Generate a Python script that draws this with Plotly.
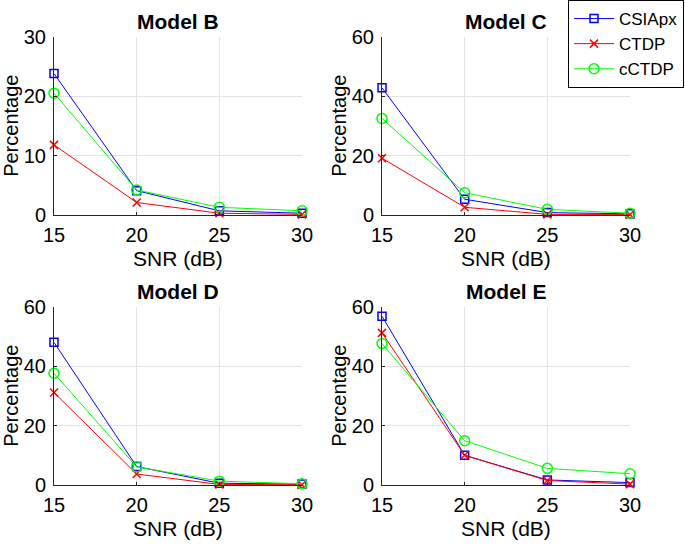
import plotly.graph_objects as go

snr = [15, 20, 25, 30]
models = ["Model B", "Model C", "Model D", "Model E"]

# percentage values per model
csiapx = {
    "Model B": [23.8, 4.1, 0.7, 0.3],
    "Model C": [42.8, 5.3, 0.8, 0.4],
    "Model D": [48.0, 6.2, 0.6, 0.3],
    "Model E": [56.8, 10.0, 1.7, 0.8],
}
ctdp = {
    "Model B": [11.8, 2.1, 0.3, 0.1],
    "Model C": [19.1, 2.6, 0.2, 0.2],
    "Model D": [31.1, 3.7, 0.2, 0.1],
    "Model E": [51.2, 10.0, 1.5, 0.3],
}
cctdp = {
    "Model B": [20.5, 4.2, 1.3, 0.7],
    "Model C": [32.5, 7.5, 1.9, 0.6],
    "Model D": [37.6, 6.1, 1.3, 0.4],
    "Model E": [47.6, 14.9, 5.6, 3.8],
}
y_max = {"Model B": 30, "Model C": 60, "Model D": 60, "Model E": 60}
y_ticks = {"Model B": [0, 10, 20, 30], "Model C": [0, 20, 40, 60],
           "Model D": [0, 20, 40, 60], "Model E": [0, 20, 40, 60]}

W, H = 685, 545
FONT = "Liberation Sans, Arial, sans-serif"

# pixel boxes of each axes (left, right, top, bottom)
boxes = {
    "Model B": (54, 302, 36.7, 215),
    "Model C": (382, 630, 36.7, 215),
    "Model D": (54, 302, 306.7, 485),
    "Model E": (382, 630, 306.7, 485),
}

series = [
    ("CSIApx", csiapx, "#0000ff", "square-open", 8),
    ("CTDP", ctdp, "#ff0000", "x-thin-open", 8),
    ("cCTDP", cctdp, "#00ff00", "circle-open", 10),
]

fig = go.Figure()
annotations = []


def label(text, x, y, angle=0, bold=False, size=21):
    return dict(text="<b>%s</b>" % text if bold else text,
                x=x / W, y=1 - y / H, xref="paper", yref="paper",
                xanchor="center", yanchor="middle", showarrow=False,
                textangle=angle, font=dict(size=size, family=FONT, color="black"))


for i, m in enumerate(models):
    k = "" if i == 0 else str(i + 1)
    l, r, t, b = boxes[m]
    for name, data, color, sym, size in series:
        fig.add_trace(go.Scatter(
            x=snr, y=data[m], mode="lines+markers", name=name,
            line=dict(color=color, width=1),
            marker=dict(symbol=sym, size=size, color=color,
                        line=dict(color=color, width=1.5)),
            xaxis="x" + k, yaxis="y" + k,
            showlegend=(i == 0), cliponaxis=False,
        ))
    ax = dict(
        showline=True, linecolor="#262626", linewidth=1,
        showgrid=True, gridcolor="#e3e3e3", gridwidth=1,
        ticks="inside", ticklen=3, tickcolor="#262626",
        tickfont=dict(size=20, color="black", family=FONT),
        zeroline=False, mirror=False, automargin=False,
    )
    fig.layout["xaxis" + k] = dict(
        ax, domain=[l / W, r / W], range=[15, 30], tickvals=snr,
        anchor="y" + k, ticklabelstandoff=2,
    )
    fig.layout["yaxis" + k] = dict(
        ax, domain=[1 - b / H, 1 - t / H], range=[0, y_max[m]],
        tickvals=y_ticks[m], anchor="x" + k, ticklabelstandoff=3,
    )
    cx = (l + r) / 2
    annotations.append(label(m, cx, t - 15, bold=True))
    annotations.append(label("SNR (dB)", cx, b + 43))
    annotations.append(label("Percentage", l - 43, (t + b) / 2, angle=-90, size=20))

fig.update_layout(
    width=W, height=H,
    margin=dict(l=0, r=0, t=0, b=0),
    paper_bgcolor="white", plot_bgcolor="white",
    font=dict(family=FONT, color="black"),
    annotations=annotations,
    legend=dict(
        x=684 / W, y=1, xanchor="right", yanchor="top",
        bgcolor="white", bordercolor="black", borderwidth=1,
        font=dict(size=17, family=FONT, color="black"),
        tracegroupgap=0, itemwidth=40,
    ),
)

# the page body has a default 8px margin; drop it so the figure sits at 0,0
fig.write_html("out.html", config={"displayModeBar": False},
               post_script="document.body.style.margin='0';")
